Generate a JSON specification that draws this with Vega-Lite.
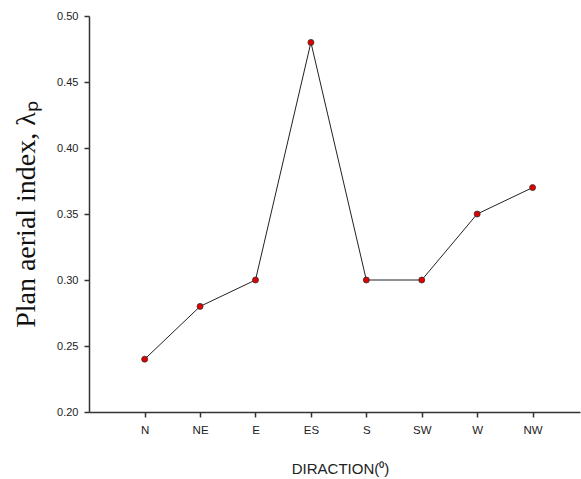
{
  "$schema": "https://vega.github.io/schema/vega-lite/v6.json",
  "autosize": "none",
  "width": 491,
  "height": 396,
  "padding": {"left": 89, "top": 16, "right": 1, "bottom": 67},
  "background": "white",
  "config": {"view": {"stroke": null}},
  "data": {"values": [
    {"direction": "N", "index": 0.24},
    {"direction": "NE", "index": 0.28},
    {"direction": "E", "index": 0.30},
    {"direction": "ES", "index": 0.48},
    {"direction": "S", "index": 0.30},
    {"direction": "SW", "index": 0.30},
    {"direction": "W", "index": 0.35},
    {"direction": "NW", "index": 0.37}
  ]},
  "encoding": {
    "x": {"field": "direction", "type": "ordinal", "sort": null,
      "scale": {"type": "point", "padding": 0.93, "align": 0.54},
      "axis": {"title": "DIRACTION(⁰)", "labelAngle": 0, "grid": false,
        "domainColor": "#333", "tickColor": "#333", "tickSize": 5, "domainWidth": 1.5, "tickWidth": 1.5,
        "labelFont": "Liberation Sans", "labelFontSize": 11.5, "labelColor": "#222", "labelPadding": 7,
        "titleFont": "Liberation Sans", "titleFontSize": 15, "titleFontWeight": "normal", "titleColor": "#222",
        "titleX": 251, "titleAlign": "center", "titleY": 56, "titleBaseline": "middle"}},
    "y": {"field": "index", "type": "quantitative",
      "scale": {"domain": [0.2, 0.5], "nice": false, "zero": false},
      "axis": {"title": "Plan aerial index, λₚ", "values": [0.2, 0.25, 0.3, 0.35, 0.4, 0.45, 0.5],
        "format": ".2f", "grid": false,
        "domainColor": "#333", "tickColor": "#333", "tickSize": 5, "domainWidth": 1.5, "tickWidth": 1.5,
        "labelFont": "Liberation Sans", "labelFontSize": 11, "labelColor": "#222", "labelPadding": 6,
        "titleFont": "Liberation Serif", "titleFontSize": 28, "titleFontWeight": "normal", "titleColor": "#111",
        "titleX": -63, "titleY": 198, "titleBaseline": "middle", "titleAngle": -90}}
  },
  "layer": [
    {"mark": {"type": "line", "color": "#222", "strokeWidth": 1}},
    {"mark": {"type": "point", "filled": true, "fill": "#e00000", "stroke": "#333", "strokeWidth": 0.8, "opacity": 1, "size": 36}}
  ]
}
